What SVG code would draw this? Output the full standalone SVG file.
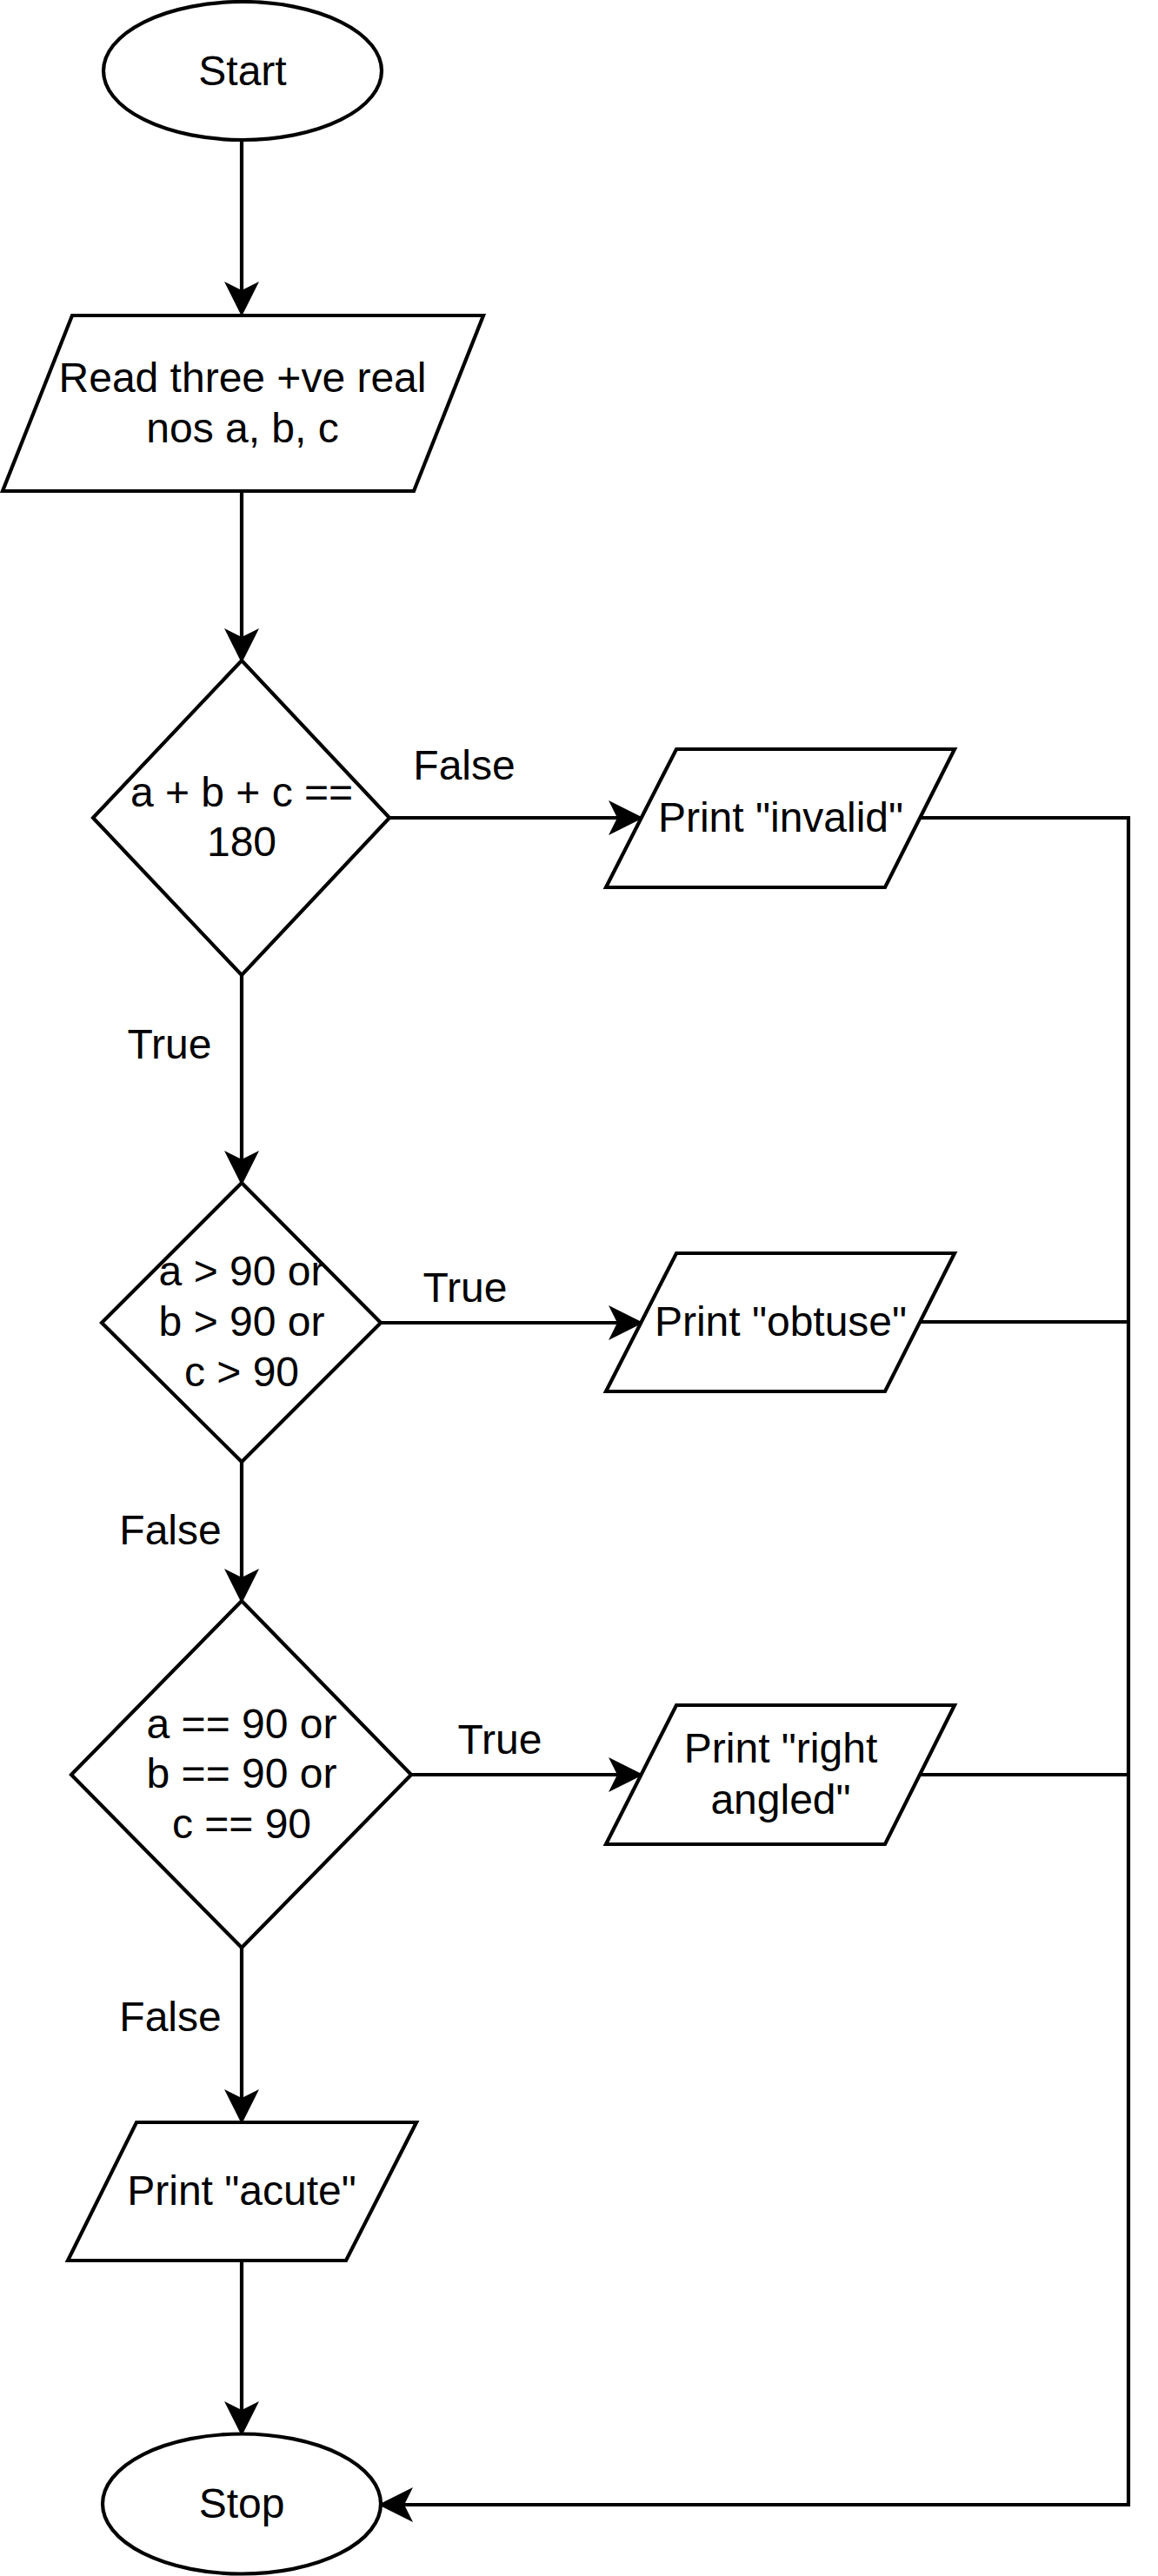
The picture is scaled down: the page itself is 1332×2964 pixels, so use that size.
<svg xmlns="http://www.w3.org/2000/svg" width="1332" height="2964" viewBox="0 0 1332 2964">
<style>
.shape{fill:#ffffff;stroke:#000000;stroke-width:4.2}
.edge{fill:none;stroke:#000000;stroke-width:4.2}
.t{font-family:"Liberation Sans",Arial,sans-serif;font-size:48px;fill:#000000;text-anchor:middle}
</style>
<defs>
<marker id="arrow" markerUnits="userSpaceOnUse" markerWidth="40" markerHeight="40" viewBox="0 0 36 36" refX="9" refY="18" orient="auto" overflow="visible">
<path d="M0,0 L36,18 L0,36 L9,18 Z" fill="#000000"/>
</marker>
</defs>
<rect x="0" y="0" width="1332" height="2964" fill="#ffffff"/>
<g id="connectors">
<path class="edge" d="M278,161 V334" marker-end="url(#arrow)"/>
<path class="edge" d="M278,565 V733" marker-end="url(#arrow)"/>
<path class="edge" d="M448,941 H710" marker-end="url(#arrow)"/>
<path class="edge" d="M278,1122 V1334" marker-end="url(#arrow)"/>
<path class="edge" d="M438,1522 H710" marker-end="url(#arrow)"/>
<path class="edge" d="M278,1682 V1815" marker-end="url(#arrow)"/>
<path class="edge" d="M473,2042 H710" marker-end="url(#arrow)"/>
<path class="edge" d="M278,2241 V2414" marker-end="url(#arrow)"/>
<path class="edge" d="M278,2601 V2773" marker-end="url(#arrow)"/>
<path class="edge" d="M1058,941 H1298 V2882 H465" marker-end="url(#arrow)"/>
<path class="edge" d="M1058,1521 H1298"/>
<path class="edge" d="M1058,2042 H1298"/>
<text class="t" x="534" y="897">False</text>
<text class="t" x="195" y="1218">True</text>
<text class="t" x="535" y="1498">True</text>
<text class="t" x="196" y="1777">False</text>
<text class="t" x="575" y="2018">True</text>
<text class="t" x="196" y="2337">False</text>
</g>
<g id="start">
<ellipse class="shape" cx="279" cy="81.5" rx="160" ry="79.5"/>
<text class="t" x="279" y="98">Start</text>
</g>
<g id="read">
<polygon class="shape" points="83,363 556,363 476,565 3,565"/>
<text class="t" x="279" y="451">Read three +ve real</text>
<text class="t" x="279" y="509">nos a, b, c</text>
</g>
<g id="decision-sum">
<polygon class="shape" points="278,760 448,941 278,1122 107,941"/>
<text class="t" x="278" y="928">a + b + c ==</text>
<text class="t" x="278" y="985">180</text>
</g>
<g id="print-invalid">
<polygon class="shape" points="778,862 1098,862 1018,1021 697,1021"/>
<text class="t" x="898" y="957">Print "invalid"</text>
</g>
<g id="decision-obtuse">
<polygon class="shape" points="278,1361 438,1522 278,1682 117,1522"/>
<text class="t" x="278" y="1479">a &gt; 90 or</text>
<text class="t" x="278" y="1537">b &gt; 90 or</text>
<text class="t" x="278" y="1595">c &gt; 90</text>
</g>
<g id="print-obtuse">
<polygon class="shape" points="778,1442 1098,1442 1018,1601 697,1601"/>
<text class="t" x="898" y="1537">Print "obtuse"</text>
</g>
<g id="decision-right">
<polygon class="shape" points="278,1842 473,2042 278,2241 82,2042"/>
<text class="t" x="278" y="2000">a == 90 or</text>
<text class="t" x="278" y="2057">b == 90 or</text>
<text class="t" x="278" y="2115">c == 90</text>
</g>
<g id="print-right">
<polygon class="shape" points="778,1962 1098,1962 1018,2122 697,2122"/>
<text class="t" x="898" y="2028">Print "right</text>
<text class="t" x="898" y="2087">angled"</text>
</g>
<g id="print-acute">
<polygon class="shape" points="157,2442 479,2442 398,2601 78,2601"/>
<text class="t" x="278" y="2537">Print "acute"</text>
</g>
<g id="stop">
<ellipse class="shape" cx="278" cy="2881" rx="160" ry="80.5"/>
<text class="t" x="278" y="2897">Stop</text>
</g>
</svg>
